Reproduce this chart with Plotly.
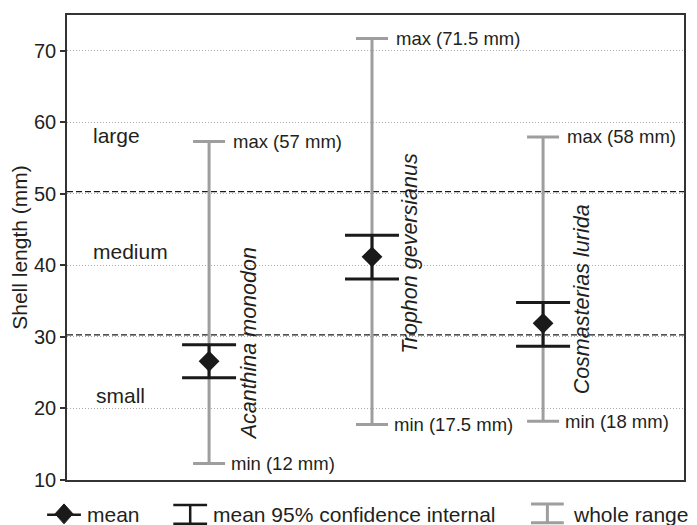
import plotly.graph_objects as go

# ---------------- data ----------------
species = ["Acanthina monodon", "Trophon geversianus", "Cosmasterias lurida"]
x_pos = [1.0, 2.0, 3.05]
mean_len = [26.6, 41.2, 31.9]
ci_low = [24.3, 38.1, 28.7]
ci_high = [28.9, 44.2, 34.8]
range_min = [12.3, 17.75, 18.2]
range_max = [57.3, 71.7, 57.95]
min_label = ["12", "17.5", "18"]
max_label = ["57", "71.5", "58"]
size_classes = ["small", "medium", "large"]
size_bounds = [30.3, 50.3]
y_ticks = [10, 20, 30, 40, 50, 60, 70]

# ---------------- layout helpers ----------------
OFF = 8                      # page body margin
W, H = 697 - OFF, 525 - OFF
L, T = 63 - OFF, 13 - OFF
R = W - (684 - OFF)
B = H - (480 - OFF)
PW, PH = W - L - R, H - T - B
FONT = "Liberation Sans, Arial, sans-serif"
TXT = "#231f20"
GRAY = "#9e9e9e"
BLACK = "#1a1a1a"


def fx(px):
    """page pixel x -> paper fraction"""
    return (px - OFF - L) / PW


def fy(py):
    """page pixel y -> paper fraction"""
    return (H - B - (py - OFF)) / PH


fig = go.Figure()

# whole range (gray)
fig.add_trace(go.Scatter(
    x=x_pos, y=mean_len, mode="markers",
    marker=dict(size=1, opacity=0),
    error_y=dict(type="data", symmetric=False,
                 array=[a - m for a, m in zip(range_max, mean_len)],
                 arrayminus=[m - a for a, m in zip(range_min, mean_len)],
                 color=GRAY, thickness=3, width=16),
    showlegend=False, hoverinfo="skip"))

# mean + 95% CI (black)
fig.add_trace(go.Scatter(
    x=x_pos, y=mean_len, mode="markers",
    marker=dict(symbol="diamond", size=16, color=BLACK),
    error_y=dict(type="data", symmetric=False,
                 array=[a - m for a, m in zip(ci_high, mean_len)],
                 arrayminus=[m - a for a, m in zip(ci_low, mean_len)],
                 color=BLACK, thickness=3, width=27),
    showlegend=False))

shapes = []
# size class boundaries
for b in size_bounds:
    shapes.append(dict(type="line", xref="paper", x0=0, x1=1, yref="y", y0=b, y1=b,
                       line=dict(color=BLACK, width=1.3, dash="6px,3px"), layer="below"))

annotations = []
# min / max labels
for xp, lo, hi, lol, hil in zip(x_pos, range_min, range_max, min_label, max_label):
    annotations.append(dict(x=xp, y=hi, xref="x", yref="y", text=f"max ({hil} mm)",
                            showarrow=False, xanchor="left", yanchor="middle", xshift=22,
                            font=dict(size=18.5, family=FONT, color=TXT)))
    annotations.append(dict(x=xp, y=lo, xref="x", yref="y", text=f"min ({lol} mm)",
                            showarrow=False, xanchor="left", yanchor="middle", xshift=20,
                            font=dict(size=18.5, family=FONT, color=TXT)))

# species labels (rotated, italic)
sp_shift = [40, 38, 39]
sp_base = [15.2, 27.3, 21.7]
for xp, name, sh, yb in zip(x_pos, species, sp_shift, sp_base):
    annotations.append(dict(x=xp, y=yb, xref="x", yref="y", text=f"<i>{name}</i>",
                            textangle=-90, showarrow=False, xanchor="center", yanchor="bottom",
                            xshift=sh, font=dict(size=21.5, family=FONT, color=TXT)))

# size class labels
size_label_y = [21.8, 41.9, 58.2]
size_label_x = [90, 87, 87]
for name, yv, xpx in zip(size_classes, size_label_y, size_label_x):
    annotations.append(dict(x=fx(xpx), y=yv, xref="paper", yref="y", text=name,
                            showarrow=False, xanchor="left", yanchor="middle",
                            font=dict(size=21, family=FONT, color=TXT)))

# ---------------- manual legend ----------------
ly = 515
shapes.append(dict(type="line", xref="paper", yref="paper", x0=fx(43), x1=fx(77),
                   y0=fy(ly), y1=fy(ly), line=dict(color=BLACK, width=2.5)))
cx, cy = 60, 514
shapes.append(dict(type="path", xref="paper", yref="paper",
                   path=f"M {fx(cx-9)},{fy(cy)} L {fx(cx)},{fy(cy-10)} L {fx(cx+9)},{fy(cy)} L {fx(cx)},{fy(cy+10)} Z",
                   fillcolor=BLACK, line=dict(color=BLACK, width=1)))


def ibeam(x0, x1, y0, y1, color, w):
    xm = (x0 + x1) / 2
    return dict(type="path", xref="paper", yref="paper",
                path=(f"M {fx(x0)},{fy(y0)} L {fx(x1)},{fy(y0)} "
                      f"M {fx(xm)},{fy(y0)} L {fx(xm)},{fy(y1)} "
                      f"M {fx(x0)},{fy(y1)} L {fx(x1)},{fy(y1)}"),
                line=dict(color=color, width=w))


shapes.append(ibeam(170, 204, 505, 524, BLACK, 2.5))
shapes.append(ibeam(530, 563, 504, 523, GRAY, 3))

for txt, xpx in [("mean", 81), ("mean 95% confidence internal", 208), ("whole range", 570)]:
    annotations.append(dict(x=fx(xpx), y=fy(ly), xref="paper", yref="paper", text=txt,
                            showarrow=False, xanchor="left", yanchor="middle",
                            font=dict(size=21, family=FONT, color=TXT)))

fig.update_layout(
    width=W, height=H,
    margin=dict(l=L, r=R, t=T, b=B, pad=0),
    paper_bgcolor="white", plot_bgcolor="white",
    font=dict(family=FONT, color=TXT, size=20),
    shapes=shapes, annotations=annotations,
    showlegend=False,
    xaxis=dict(range=[0.128, 3.915], showgrid=False, zeroline=False,
               showticklabels=False, ticks="", showline=True, mirror=True,
               linecolor="#333333", linewidth=1.5, fixedrange=True),
    yaxis=dict(range=[10, 75], tickvals=y_ticks, ticks="outside", ticklen=5,
               tickcolor="#333333", tickwidth=1.5,
               showgrid=True, gridcolor="#aaaaaa", gridwidth=1, griddash="1px,2px",
               zeroline=False, showline=True, mirror=True,
               linecolor="#333333", linewidth=1.5,
               tickfont=dict(size=20, family=FONT, color=TXT),
               title=dict(text="Shell length (mm)", standoff=6,
                          font=dict(size=21, family=FONT, color=TXT))),
)

fig.write_html("out.html")
